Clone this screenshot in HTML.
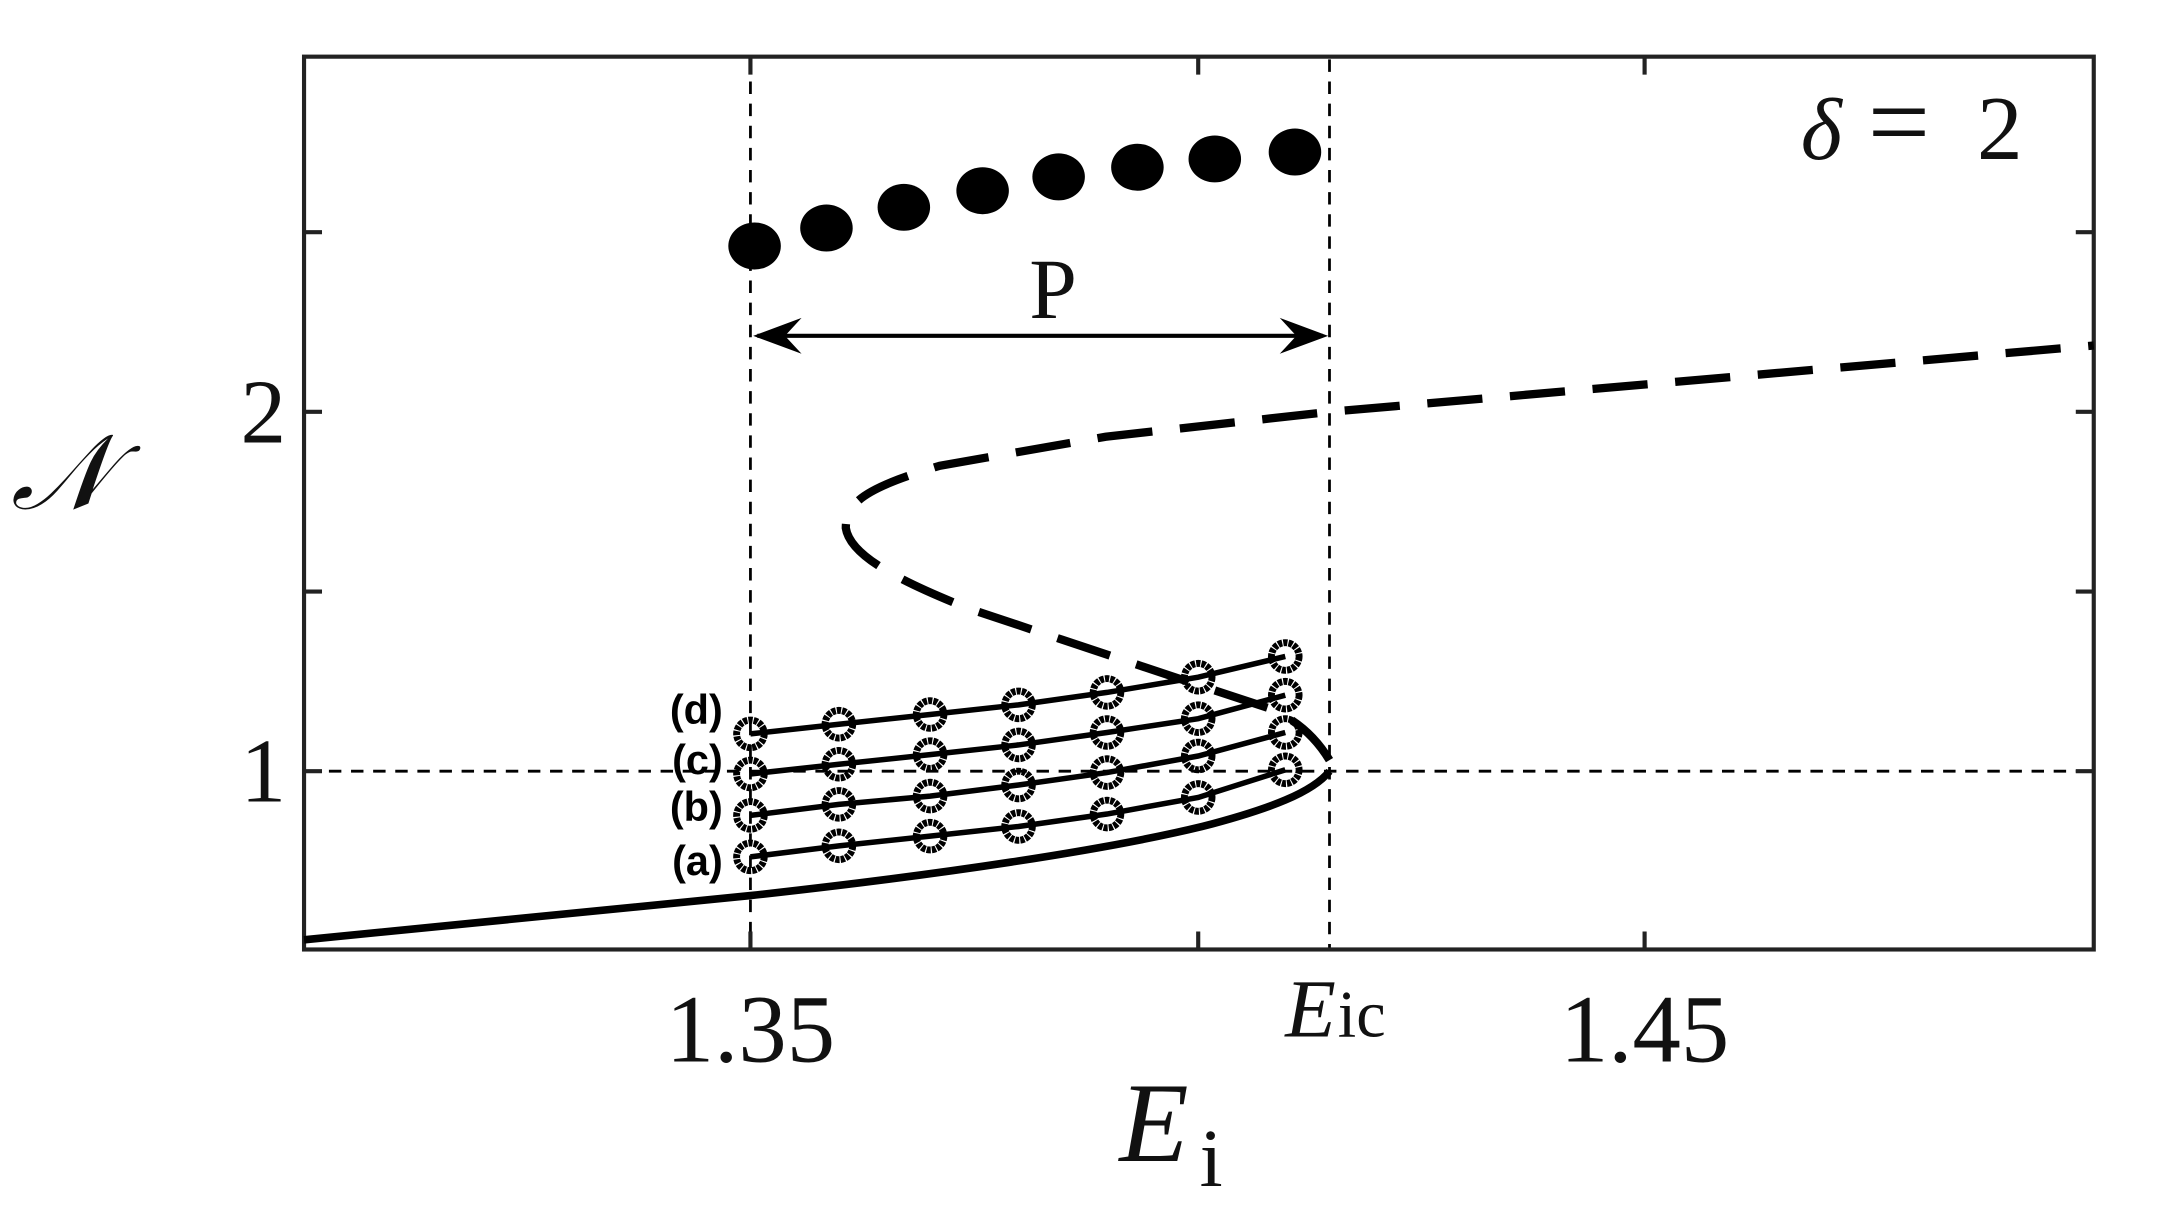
<!DOCTYPE html>
<html><head><meta charset="utf-8"><style>html,body{margin:0;padding:0;background:#fff;overflow:hidden}svg{display:block}</style></head>
<body>
<svg width="2167" height="1210" viewBox="0 0 1568 875.5" preserveAspectRatio="none" xmlns="http://www.w3.org/2000/svg">
<rect width="1568" height="875.5" fill="#fff"/>
<g stroke="#000" stroke-width="2" stroke-dasharray="9,7" fill="none">
<line x1="543" y1="43" x2="543" y2="686"/>
<line x1="962" y1="43" x2="962" y2="686"/>
<line x1="222" y1="558" x2="1513" y2="558"/>
</g>
<rect x="220" y="41" width="1295" height="646" fill="none" stroke="#222" stroke-width="3"/>
<g stroke="#222" stroke-width="3">
<line x1="220" y1="168" x2="233" y2="168"/><line x1="220" y1="298" x2="233" y2="298"/><line x1="220" y1="428" x2="233" y2="428"/><line x1="220" y1="558" x2="233" y2="558"/>
<line x1="1515" y1="168" x2="1502" y2="168"/><line x1="1515" y1="298" x2="1502" y2="298"/><line x1="1515" y1="428" x2="1502" y2="428"/><line x1="1515" y1="558" x2="1502" y2="558"/>
<line x1="543" y1="687" x2="543" y2="674"/><line x1="867" y1="687" x2="867" y2="674"/><line x1="1190" y1="687" x2="1190" y2="674"/>
<line x1="543" y1="41" x2="543" y2="54"/><line x1="867" y1="41" x2="867" y2="54"/><line x1="1190" y1="41" x2="1190" y2="54"/>
</g>
<path d="M220,680 L543,648 C680,633 800,615 870,598 C920,585 950,573 962,558" fill="none" stroke="#000" stroke-width="5.5"/>
<path d="M962,550 C950,530 935,520 920,513 L850,490 L700,440 C650,420 615,402 612,382 C612,362 630,352 680,337 L800,316 L962,298 L1515,250" fill="none" stroke="#000" stroke-width="6" stroke-dasharray="40,20"/>
<g fill="none" stroke="#000">
<polyline stroke-width="4" points="543,620 607,612 673,605 737,598 801,589 867,577 930,557"/>
<polyline stroke-width="4" points="543,590 607,582 673,576 737,568 801,559 867,547 930,530"/>
<polyline stroke-width="4" points="543,560 607,553 673,546 737,539 801,530 867,520 930,503"/>
<polyline stroke-width="4" points="543,531 607,524 673,517 737,510 801,501 867,490 930,475"/>
<g stroke-width="5" stroke-dasharray="3,0.8">
<circle cx="543" cy="620" r="10"/><circle cx="607" cy="612" r="10"/><circle cx="673" cy="605" r="10"/><circle cx="737" cy="598" r="10"/><circle cx="801" cy="589" r="10"/><circle cx="867" cy="577" r="10"/><circle cx="930" cy="557" r="10"/>
<circle cx="543" cy="590" r="10"/><circle cx="607" cy="582" r="10"/><circle cx="673" cy="576" r="10"/><circle cx="737" cy="568" r="10"/><circle cx="801" cy="559" r="10"/><circle cx="867" cy="547" r="10"/><circle cx="930" cy="530" r="10"/>
<circle cx="543" cy="560" r="10"/><circle cx="607" cy="553" r="10"/><circle cx="673" cy="546" r="10"/><circle cx="737" cy="539" r="10"/><circle cx="801" cy="530" r="10"/><circle cx="867" cy="520" r="10"/><circle cx="930" cy="503" r="10"/>
<circle cx="543" cy="531" r="10"/><circle cx="607" cy="524" r="10"/><circle cx="673" cy="517" r="10"/><circle cx="737" cy="510" r="10"/><circle cx="801" cy="501" r="10"/><circle cx="867" cy="490" r="10"/><circle cx="930" cy="475" r="10"/>
</g>
</g>
<g font-family="Liberation Sans, sans-serif" font-weight="bold" font-size="30" text-anchor="end" fill="#000">
<text x="523" y="633">(a)</text><text x="523" y="594">(b)</text><text x="523" y="560">(c)</text><text x="523" y="524">(d)</text>
</g>
<g fill="#000">
<ellipse cx="546" cy="178" rx="19" ry="17"/><ellipse cx="598" cy="165" rx="19" ry="17"/><ellipse cx="654" cy="150" rx="19" ry="17"/><ellipse cx="711" cy="138" rx="19" ry="17"/><ellipse cx="766" cy="128" rx="19" ry="17"/><ellipse cx="823" cy="121" rx="19" ry="17"/><ellipse cx="879" cy="115" rx="19" ry="17"/><ellipse cx="937" cy="110" rx="19" ry="17"/>
</g>
<line x1="548" y1="243" x2="957" y2="243" stroke="#000" stroke-width="3"/>
<path d="M545,243 L580,230 L568,243 L580,256 Z" fill="#000"/>
<path d="M961,243 L926,230 L938,243 L926,256 Z" fill="#000"/>
<g font-family="Liberation Serif, serif" fill="#111">
<text x="762" y="230" font-size="62" text-anchor="middle">P</text>
<text x="1303" y="115" font-size="64" font-style="italic">δ</text>
<text x="1374" y="115" font-size="80" text-anchor="middle">=</text>
<text x="1447" y="115" font-size="66" text-anchor="middle">2</text>
<text x="207" y="320" font-size="66" text-anchor="end">2</text>
<text x="207" y="580" font-size="66" text-anchor="end">1</text>
<text x="543" y="768" font-size="70" text-anchor="middle">1.35</text>
<text x="1190" y="768" font-size="70" text-anchor="middle">1.45</text>
<text x="930" y="750" font-size="60" font-style="italic">E</text>
<text x="968" y="750" font-size="48">ic</text>
<text x="810" y="840" font-size="82" font-style="italic">E</text>
<text x="868" y="858" font-size="60">i</text>
<text x="8" y="368" font-size="76" font-style="italic">𝒩</text>
</g>
</svg>
</body></html>
